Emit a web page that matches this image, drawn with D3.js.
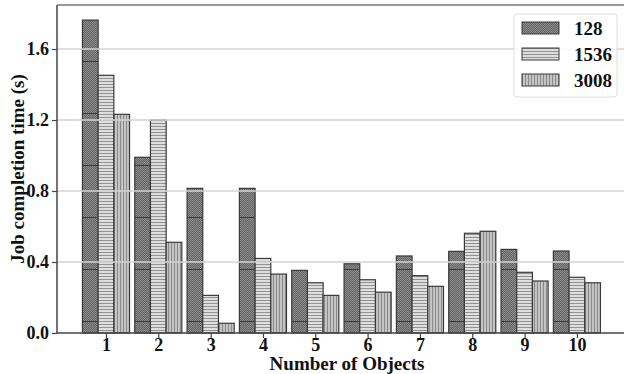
<!DOCTYPE html>
<html>
<head>
<meta charset="utf-8">
<script src="https://cdn.jsdelivr.net/npm/d3@7"></script>
<style>
  body { margin: 0; background: #fff; }
  svg { display: block; font-family: "Liberation Serif", "Times New Roman", serif; font-weight: bold; }
</style>
</head>
<body>
<svg id="chart" width="624" height="374"></svg>
<script>
'use strict';

// data
const categories = [1, 2, 3, 4, 5, 6, 7, 8, 9, 10];
const seriesNames = ["128", "1536", "3008"];
const values128 = [1.763, 0.99, 0.815, 0.815, 0.353, 0.39, 0.434, 0.46, 0.471, 0.462];
const values1536 = [1.452, 1.20, 0.212, 0.42, 0.283, 0.30, 0.323, 0.562, 0.342, 0.314];
const values3008 = [1.232, 0.511, 0.055, 0.332, 0.212, 0.23, 0.263, 0.573, 0.293, 0.283];
const yTicks = [0.0, 0.4, 0.8, 1.2, 1.6];

const series = [values128, values1536, values3008];
const patternIds = ["p128", "p1536", "p3008"];

const svg = d3.select("#chart");
const width = 624, height = 374;
const margin = {left: 57, top: 5, right: 0, bottom: 41};

const x = d3.scaleLinear().domain([0.064, 10.9]).range([margin.left, width - margin.right]);
const y = d3.scaleLinear().domain([0, 1.848]).range([height - margin.bottom, margin.top]);
const barW = 0.3;

// patterns
const defs = svg.append("defs");

const p128 = defs.append("pattern").attr("id", "p128")
	.attr("patternUnits", "userSpaceOnUse")
	.attr("x", 0).attr("y", 9).attr("width", 2).attr("height", 52);
p128.append("rect").attr("width", 2).attr("height", 52).attr("fill", "#8c8c8c");
for (let r = 0; r < 52; r += 2) {
	p128.append("rect").attr("x", 0).attr("y", r).attr("width", 1).attr("height", 1).attr("fill", "#646464");
	p128.append("rect").attr("x", 1).attr("y", r + 1).attr("width", 1).attr("height", 1).attr("fill", "#646464");
}
p128.append("rect").attr("x", 0).attr("y", 0).attr("width", 2).attr("height", 1).attr("fill", "#3a3a3a");

const p1536 = defs.append("pattern").attr("id", "p1536")
	.attr("patternUnits", "userSpaceOnUse")
	.attr("width", 4).attr("height", 3);
p1536.append("rect").attr("width", 4).attr("height", 3).attr("fill", "#dedede");
p1536.append("rect").attr("y", 0).attr("width", 4).attr("height", 1).attr("fill", "#929292");

const p3008 = defs.append("pattern").attr("id", "p3008")
	.attr("patternUnits", "userSpaceOnUse")
	.attr("width", 3).attr("height", 4);
p3008.append("rect").attr("width", 3).attr("height", 4).attr("fill", "#c4c4c4");
p3008.append("rect").attr("x", 0).attr("width", 1).attr("height", 4).attr("fill", "#8a8a8a");

// bars
series.forEach((vals, s) => {
	svg.append("g")
		.selectAll("rect")
		.data(vals)
		.join("rect")
		.attr("x", (d, i) => x(categories[i] + (s - 1.5) * barW))
		.attr("y", d => y(d))
		.attr("width", x(barW) - x(0))
		.attr("height", d => y(0) - y(d))
		.attr("fill", `url(#${patternIds[s]})`)
		.attr("stroke", "#3a3a3a")
		.attr("stroke-width", 1.2);
});

// grid on top
svg.append("g")
	.selectAll("line")
	.data(yTicks.slice(1))
	.join("line")
	.attr("x1", margin.left).attr("x2", width)
	.attr("y1", d => y(d)).attr("y2", d => y(d))
	.attr("stroke", "#d3d3d3")
	.attr("stroke-width", 1.5);

// axes
const yAxis = svg.append("g")
	.attr("transform", `translate(${margin.left},0)`)
	.call(d3.axisLeft(y).tickValues(yTicks).tickFormat(d3.format(".1f")).tickSize(5).tickPadding(3));
const xAxis = svg.append("g")
	.attr("transform", `translate(0,${y(0)})`)
	.call(d3.axisBottom(x).tickValues(categories).tickFormat(d3.format("d")).tickSize(5).tickPadding(0));

[yAxis, xAxis].forEach(a => {
	a.select(".domain").attr("stroke", "#444").attr("stroke-width", 1.5);
	a.selectAll(".tick line").attr("stroke", "#444").attr("stroke-width", 1.2);
	a.selectAll(".tick text")
		.attr("fill", "#111")
		.style("font-family", "'Liberation Serif', serif")
		.style("font-weight", "bold")
		.style("font-size", "18px");
});
xAxis.select(".domain").attr("d", `M${margin.left},0H${width}`);
yAxis.select(".domain").attr("d", `M0,${y(0)}V${margin.top}`);

// top spine
svg.append("line")
	.attr("x1", margin.left).attr("x2", width)
	.attr("y1", margin.top).attr("y2", margin.top)
	.attr("stroke", "#777").attr("stroke-width", 1.5);

// labels
svg.append("text")
	.attr("x", 347).attr("y", 370)
	.attr("text-anchor", "middle")
	.attr("font-size", 19).attr("fill", "#111")
	.text("Number of Objects");

svg.append("text")
	.attr("transform", `translate(24,${(margin.top + y(0)) / 2}) rotate(-90)`)
	.attr("text-anchor", "middle")
	.attr("font-size", 19).attr("fill", "#111")
	.text("Job completion time (s)");

// legend
const legend = svg.append("g").attr("transform", "translate(514,14)");
legend.append("rect")
	.attr("width", 103).attr("height", 83)
	.attr("rx", 3)
	.attr("fill", "#fff").attr("fill-opacity", 0.9)
	.attr("stroke", "#ddd");
seriesNames.forEach((name, s) => {
	const g = legend.append("g").attr("transform", `translate(8,${14 + s * 26})`);
	g.append("rect")
		.attr("y", -6).attr("width", 37).attr("height", 12)
		.attr("fill", `url(#${patternIds[s]})`)
		.attr("stroke", "#3a3a3a").attr("stroke-width", 1);
	g.append("text")
		.attr("x", 52).attr("y", 7)
		.attr("font-size", 19).attr("fill", "#111")
		.text(name);
});
</script>
</body>
</html>
